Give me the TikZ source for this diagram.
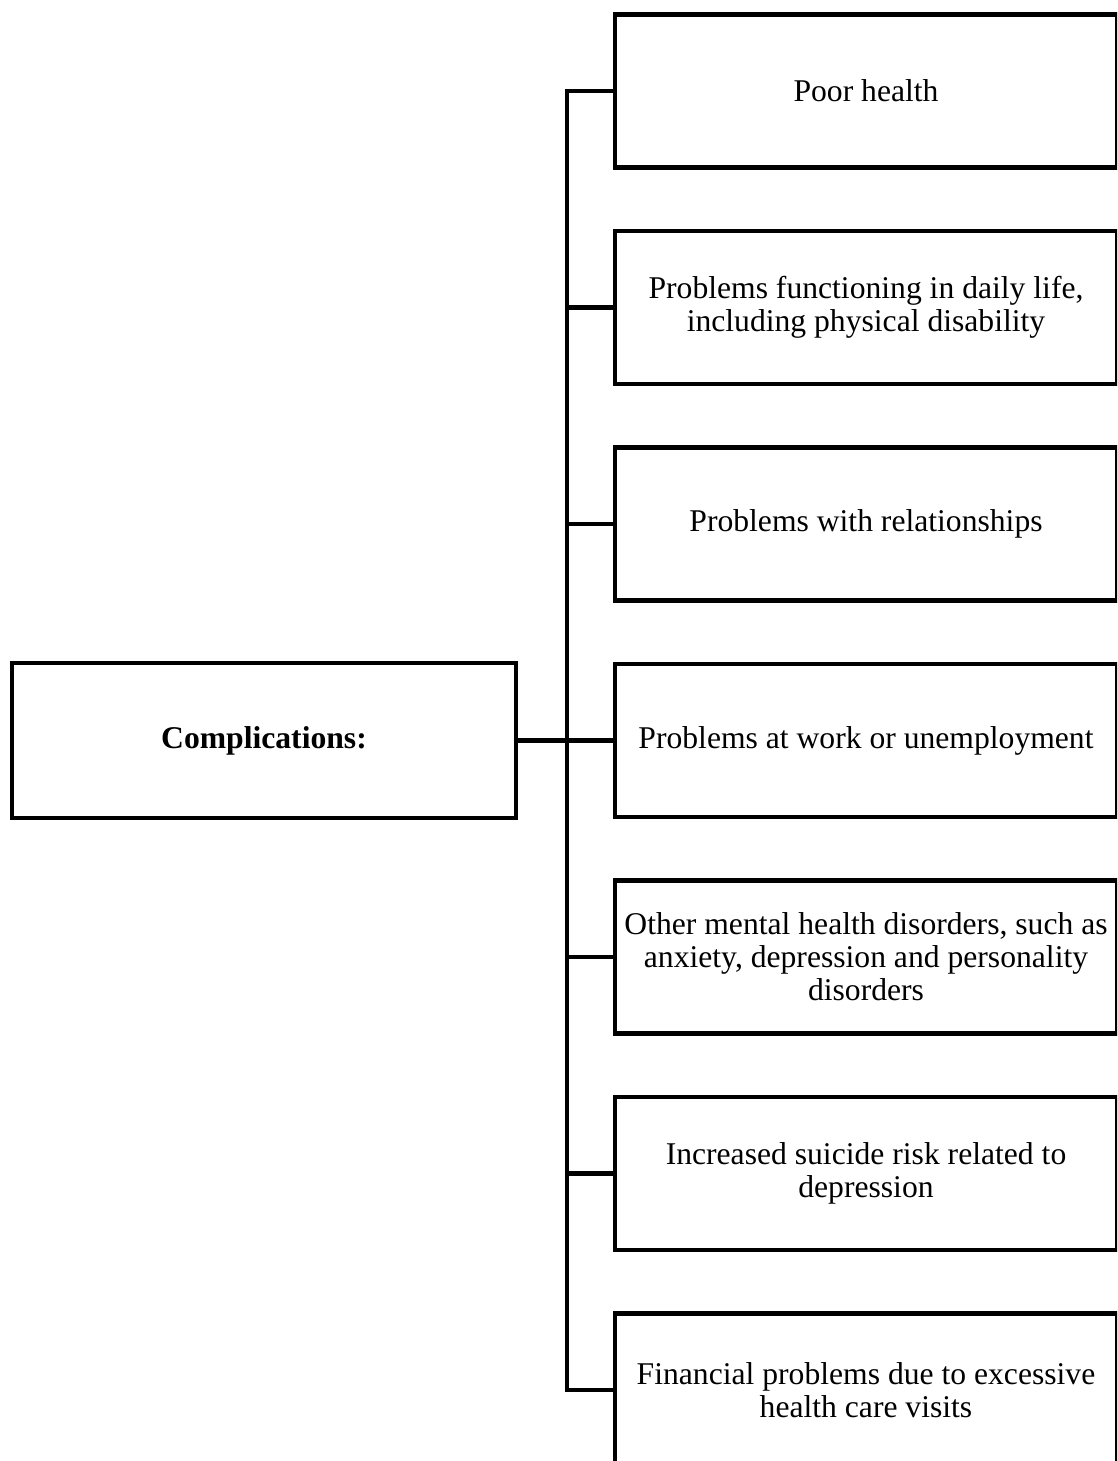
\documentclass[tikz,border=0pt]{standalone}
\usepackage{fontspec}
\setmainfont{Liberation Serif}
\usepackage{tikz}
\usetikzlibrary{positioning, calc}

\tikzset{
    itembox/.style={draw, line width=2.4pt, minimum width=10.04cm, minimum height=3.06cm,
        align=center, inner sep=2pt, font=\fontsize{18}{18.8}\selectfont},
    conn/.style={line width=2.4pt, line join=miter}
}

\begin{document}
\begin{tikzpicture}
    \clip (0, 0) rectangle (22.34, -29.22);

    % main box
    \node[itembox, minimum width=10.08cm, minimum height=3.1cm] (comp) at (5.28, -14.81) {\textbf{Complications:}};

    % complications
    \node[itembox] (c1) at (17.32, -1.82) {Poor health};
    \node[itembox] (c2) at (17.32, -6.15) {Problems functioning in daily life,\\including physical disability};
    \node[itembox] (c3) at (17.32, -10.48) {Problems with relationships};
    \node[itembox] (c4) at (17.32, -14.81) {Problems at work or unemployment};
    \node[itembox] (c5) at (17.32, -19.14) {Other mental health disorders, such as\\anxiety, depression and personality\\disorders};
    \node[itembox] (c6) at (17.32, -23.47) {Increased suicide risk related to\\depression};
    \node[itembox] (c7) at (17.32, -27.80) {Financial problems due to excessive\\health care visits};

    % trunk
    \coordinate (trunk) at (11.34, 0);
    \draw[conn] (c1.west) -- (c1.west -| trunk) -- (c7.west -| trunk) -- (c7.west);
    \draw[conn] (comp.east) -- (c4.west);
    \draw[conn] (c2.west) -- (c2.west -| trunk);
    \draw[conn] (c3.west) -- (c3.west -| trunk);
    \draw[conn] (c5.west) -- (c5.west -| trunk);
    \draw[conn] (c6.west) -- (c6.west -| trunk);
\end{tikzpicture}
\end{document}
